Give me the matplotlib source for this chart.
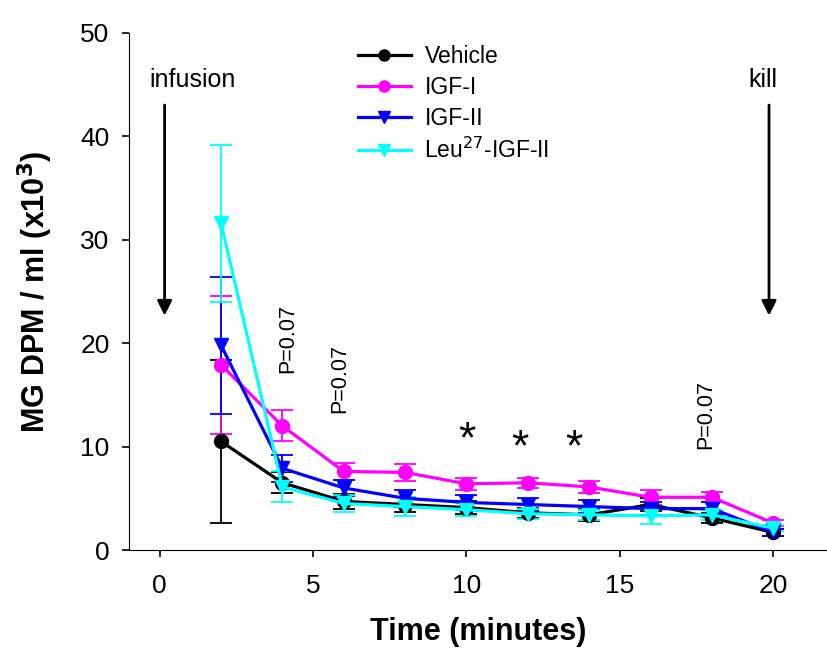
import matplotlib
matplotlib.use('Agg')
import matplotlib.pyplot as plt
from matplotlib.lines import Line2D

plt.rcParams['font.family'] = ['Liberation Sans', 'DejaVu Sans']

# tempos (minutos)
tempo = [2, 4, 6, 8, 10, 12, 14, 16, 18, 20]

veiculo = [10.5, 6.5, 4.7, 4.4, 4.1, 3.6, 3.4, 4.4, 3.1, 1.7]
veiculo_err = [7.9, 1.0, 0.7, 0.7, 0.6, 0.5, 0.6, 0.6, 0.5, 0.3]

igf1 = [17.9, 12.0, 7.6, 7.5, 6.4, 6.5, 6.1, 5.1, 5.1, 2.6]
igf1_err = [6.7, 1.5, 0.8, 0.8, 0.6, 0.5, 0.6, 0.7, 0.5, 0.3]

igf2 = [19.8, 7.9, 6.0, 5.0, 4.6, 4.4, 4.2, 4.0, 4.0, 1.7]
igf2_err = [6.6, 1.3, 0.8, 0.8, 0.7, 0.6, 0.6, 0.6, 0.6, 0.3]

leu = [31.6, 6.1, 4.5, 4.2, 3.9, 3.5, 3.4, 3.3, 3.4, 2.1]
leu_err = [7.6, 1.5, 0.8, 0.9, 0.6, 0.5, 0.5, 0.8, 0.5, 0.3]

series = [
    ('Vehicle', veiculo, veiculo_err, 'black', 'o'),
    ('IGF-I', igf1, igf1_err, '#ff00ff', 'o'),
    ('IGF-II', igf2, igf2_err, '#0000ff', 'v'),
    ('Leu$^{27}$-IGF-II', leu, leu_err, '#00ffff', 'v'),
]

fig = plt.figure(figsize=(8.27, 6.57), dpi=100)
ax = fig.add_axes([129 / 827, 107 / 657, 1 - 129 / 827, (550 - 33) / 657])

handles = []
for nome, y, err, cor, mk in series:
    ax.errorbar(tempo, y, yerr=err, color=cor, marker=mk, markersize=10,
                linewidth=2.3, elinewidth=1.3, capsize=8, capthick=1.3)
    handles.append(Line2D([], [], color=cor, marker=mk, markersize=8,
                          linewidth=2.3, label=nome))

ax.set_xlim(-1, 21.75)
ax.set_ylim(0, 50)
ax.set_xticks([0, 5, 10, 15, 20])
ax.set_yticks([0, 10, 20, 30, 40, 50])
ax.spines['top'].set_visible(False)
ax.spines['right'].set_visible(False)
ax.tick_params(axis='both', direction='out', length=5, width=1.2, labelsize=19)
ax.tick_params(axis='x', pad=12)
ax.tick_params(axis='y', pad=9)

ax.set_xlabel('Time (minutes)', fontsize=22, fontweight='bold', labelpad=14)
ax.set_ylabel('MG DPM / ml (x10$^\\mathbf{3}$)', fontsize=22, fontweight='bold', labelpad=18)

# setas
seta = dict(arrowstyle='-|>', color='black', lw=2, mutation_scale=22)
ax.annotate('', xy=(0.16, 22.4), xytext=(0.16, 43.3), arrowprops=seta)
ax.annotate('', xy=(19.86, 22.4), xytext=(19.86, 43.3), arrowprops=seta)
ax.text(1.08, 45.5, 'infusion', fontsize=18, ha='center', va='center')
ax.text(19.66, 45.5, 'kill', fontsize=18, ha='center', va='center')

# valores de p
for xp, yp in [(4.17, 20.5), (5.87, 16.6), (17.8, 13.1)]:
    ax.text(xp, yp, 'P=0.07', fontsize=15.5, rotation=90, ha='center', va='center')

for xs, ys in [(10.0, 10.6), (11.75, 9.8), (13.5, 9.8)]:
    ax.text(xs, ys, '*', fontsize=32, ha='center', va='center')

ax.legend(handles=handles, loc='upper left', bbox_to_anchor=(358 / 827, 1 - 45 / 657),
          bbox_transform=fig.transFigure, frameon=False, fontsize=16.5,
          handlelength=2.3, handletextpad=0.6, labelspacing=0.35,
          borderaxespad=0, borderpad=0)

fig.savefig('out.png', dpi=100)
